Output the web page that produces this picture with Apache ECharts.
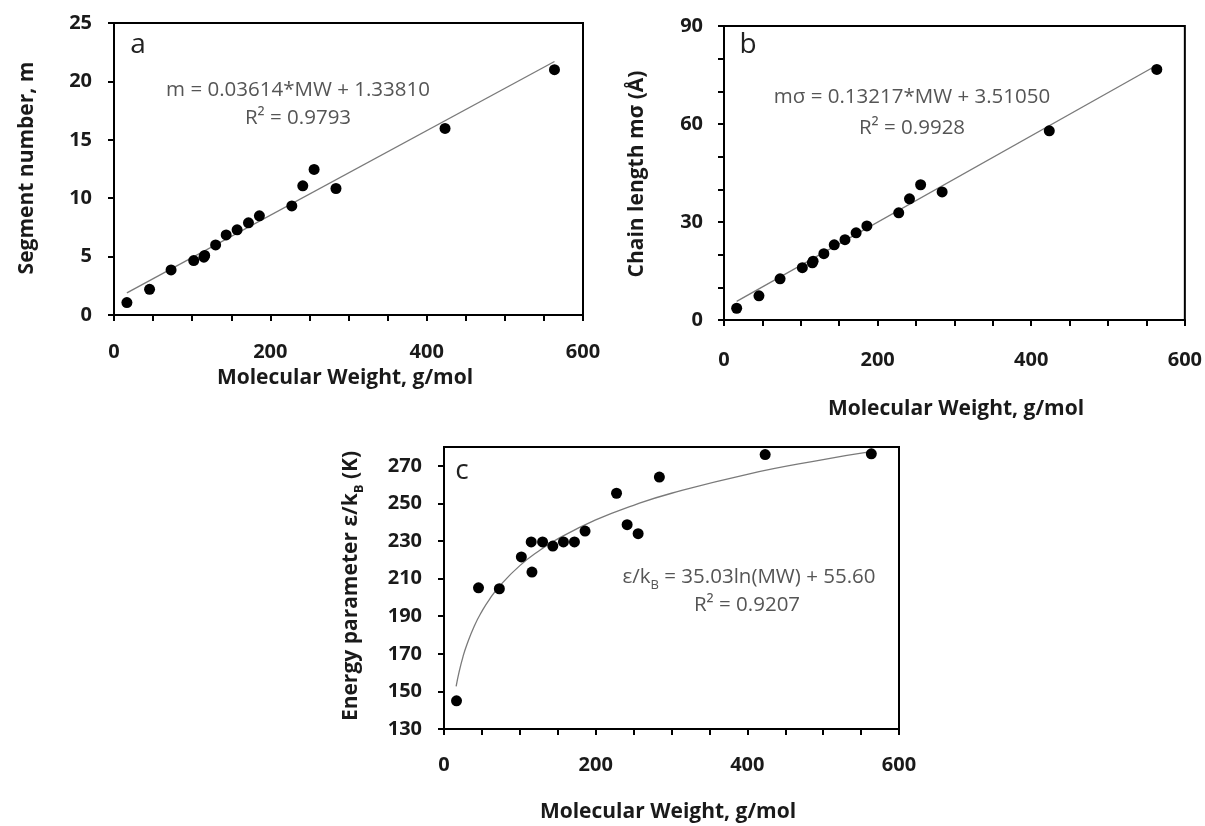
<!DOCTYPE html>
<html>
<head>
<meta charset="utf-8">
<script src="https://cdn.jsdelivr.net/npm/echarts@6/dist/echarts.min.js"></script>
<style>html,body{margin:0;padding:0;background:#fff;}#chart{width:1205px;height:826px;}</style>
</head>
<body>
<div id="chart"></div>
<script>
// ---- data ----
const molWeight = [16.5, 45.5, 73, 102, 115, 116, 130, 143.5, 157.5, 172, 186, 227.5, 241.5, 256, 284, 423.5, 563.5];
const segNum    = [1.06, 2.2, 3.86, 4.66, 4.95, 5.1, 6.0, 6.86, 7.29, 7.89, 8.49, 9.34, 11.06, 12.46, 10.83, 15.97, 21.0];
const chainLen  = [3.6, 7.4, 12.6, 16.0, 17.5, 18.0, 20.3, 23.0, 24.6, 26.7, 28.8, 32.8, 37.1, 41.4, 39.2, 57.9, 76.7];
const energy    = [145.0, 205.1, 204.6, 221.5, 229.5, 213.5, 229.5, 227.3, 229.5, 229.5, 235.3, 255.4, 238.7, 233.9, 264.0, 276.0, 276.4];
// trend lines
const trendAx = [16.5, 563.5];
const trendAy = [1.9, 21.7];
const trendBx = [16.5, 563.5];
const trendBy = [5.7, 78.0];
const fitCx = [16, 20, 25, 30, 40, 50, 60, 75, 100, 125, 150, 200, 250, 300, 400, 500, 563];
const fitCy = [152.7, 160.5, 168.4, 174.7, 184.8, 192.6, 199.0, 206.8, 216.9, 224.7, 231.1, 241.2, 249.0, 255.4, 265.5, 273.3, 277.5];
// tick labels
const xTickLabels = [0, 200, 400, 600];
const xTicks = [0, 50, 100, 150, 200, 250, 300, 350, 400, 450, 500, 550, 600];
const yTicksA = [0, 5, 10, 15, 20, 25];
const yLabelsB = [0, 30, 60, 90];
const yTicksB = [0, 10, 20, 30, 40, 50, 60, 70, 80, 90];
const yTicksC = [130, 150, 170, 190, 210, 230, 250, 270];

const FONT = 'Open Sans';
const TICKLEN = 6;
const TICKINSIDE = false;
const pairs = (xs, ys) => xs.map((x, i) => [x, ys[i]]);

function xAxisCfg(idx, margin) {
  return {
    type: 'value', gridIndex: idx, min: 0, max: 600, interval: 50, position: 'bottom',
    axisLine: { show: true, onZero: false, lineStyle: { color: '#000', width: 2 } },
    axisTick: { show: true, inside: TICKINSIDE, length: TICKLEN, lineStyle: { color: '#000', width: 2 }, customValues: xTicks },
    axisLabel: { margin: margin, fontFamily: FONT, fontWeight: 'bold', fontSize: 20, color: '#1a1a1a', customValues: xTickLabels },
    splitLine: { show: false }
  };
}
function yAxisCfg(idx, min, max, interval, ticks, labels, margin) {
  return {
    type: 'value', gridIndex: idx, min: min, max: max, interval: interval, position: 'left',
    axisLine: { show: true, onZero: false, lineStyle: { color: '#000', width: 2 } },
    axisTick: { show: true, inside: TICKINSIDE, length: TICKLEN, lineStyle: { color: '#000', width: 2 }, customValues: ticks },
    axisLabel: { margin: margin, fontFamily: FONT, fontWeight: 'bold', fontSize: 20, color: '#1a1a1a', customValues: labels },
    splitLine: { show: false }
  };
}
const gridStyle = { show: true, borderColor: '#000', borderWidth: 2, backgroundColor: 'transparent', containLabel: false };

function scatter(idx, data) {
  return { type: 'scatter', xAxisIndex: idx, yAxisIndex: idx, data: data, symbol: 'circle', symbolSize: 11,
    itemStyle: { color: '#000', opacity: 1 }, z: 3, silent: true };
}
function trend(idx, data, smooth) {
  return { type: 'line', xAxisIndex: idx, yAxisIndex: idx, data: data, showSymbol: false, smooth: smooth,
    lineStyle: { color: '#7a7a7a', width: 1.3 }, z: 2, silent: true };
}

function txt(x, y, text, opts) {
  opts = opts || {};
  return {
    type: 'text', x: x, y: y, rotation: opts.rotation || 0, z: 10, silent: true,
    style: Object.assign({
      text: text, align: 'center', verticalAlign: 'middle',
      fontFamily: FONT, fontSize: opts.size || 20, fontWeight: opts.weight || 'normal',
      fill: opts.color || '#1a1a1a'
    }, opts.extra || {})
  };
}

const eqColor = '#555555';
const EQ = 20.5;
const option = {
  animation: false,
  backgroundColor: '#fff',
  grid: [
    Object.assign({ left: 114, top: 23, width: 469, height: 292 }, gridStyle),
    Object.assign({ left: 724, top: 26, width: 461, height: 294 }, gridStyle),
    Object.assign({ left: 444, top: 447, width: 455, height: 282 }, gridStyle)
  ],
  xAxis: [xAxisCfg(0, 27), xAxisCfg(1, 30), xAxisCfg(2, 26)],
  yAxis: [
    yAxisCfg(0, 0, 25, 5, yTicksA, yTicksA, 22),
    yAxisCfg(1, 0, 90, 10, yTicksB, yLabelsB, 21),
    yAxisCfg(2, 130, 280, 10, yTicksC, yTicksC, 22)
  ],
  series: [
    trend(0, pairs(trendAx, trendAy), false),
    scatter(0, pairs(molWeight, segNum)),
    trend(1, pairs(trendBx, trendBy), false),
    scatter(1, pairs(molWeight, chainLen)),
    trend(2, pairs(fitCx, fitCy), true),
    scatter(2, pairs(molWeight, energy))
  ],
  graphic: [
    // panel letters
    txt(138, 45, 'a', { size: 28, color: '#222' }),
    txt(748, 45, 'b', { size: 28, color: '#222' }),
    txt(462, 471, 'c', { size: 28, color: '#222' }),
    // equations
    txt(298, 90, 'm = 0.03614*MW + 1.33810', { color: eqColor, size: EQ }),
    txt(298, 118, 'R² = 0.9793', { color: eqColor, size: EQ }),
    txt(912, 97, 'mσ = 0.13217*MW + 3.51050', { color: eqColor, size: EQ }),
    txt(912, 128, 'R² = 0.9928', { color: eqColor, size: EQ }),
    txt(749, 576, '', { color: eqColor, extra: {
      text: '{n|ε/k}{s|B}{n| = 35.03ln(MW) + 55.60}',
      rich: {
        n: { fontFamily: FONT, fontSize: EQ, fill: eqColor, lineHeight: 24, verticalAlign: 'bottom' },
        s: { fontFamily: FONT, fontSize: 13, fill: eqColor, lineHeight: 15, verticalAlign: 'bottom', padding: [0, 0, -4, 0] }
      } } }),
    txt(747, 605, 'R² = 0.9207', { color: eqColor, size: EQ }),
    // axis titles
    txt(345, 378, 'Molecular Weight, g/mol', { size: 21, weight: 'bold' }),
    txt(956, 409, 'Molecular Weight, g/mol', { size: 21, weight: 'bold' }),
    txt(668, 812, 'Molecular Weight, g/mol', { size: 21, weight: 'bold' }),
    txt(27, 168, 'Segment number, m', { size: 21, weight: 'bold', rotation: Math.PI / 2 }),
    txt(637, 174, 'Chain length mσ (Å)', { size: 21, weight: 'bold', rotation: Math.PI / 2 }),
    txt(349, 586, '', { size: 21, weight: 'bold', rotation: Math.PI / 2, extra: {
      text: '{n|Energy parameter ε/k}{s|B}{n| (K)}',
      rich: {
        n: { fontFamily: FONT, fontSize: 21, fontWeight: 'bold', fill: '#1a1a1a', lineHeight: 26, verticalAlign: 'bottom' },
        s: { fontFamily: FONT, fontSize: 13, fontWeight: 'bold', fill: '#1a1a1a', lineHeight: 16, verticalAlign: 'bottom', padding: [0, 0, -4, 0] }
      } } })
  ]
};

const chart = echarts.init(document.getElementById('chart'), null, { renderer: 'canvas' });
chart.setOption(option);
</script>
</body>
</html>
